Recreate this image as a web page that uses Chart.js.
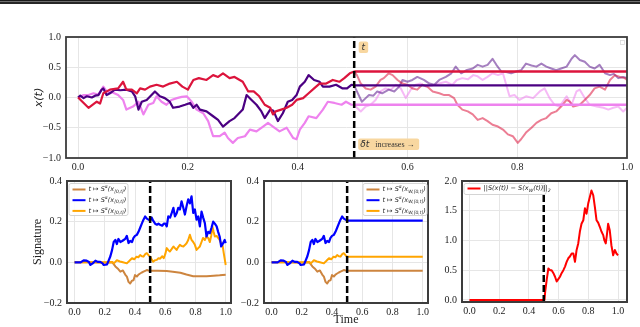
<!DOCTYPE html>
<html><head><meta charset="utf-8">
<script src="https://cdn.jsdelivr.net/npm/chart.js@4/dist/chart.umd.min.js"></script>
<style>
html,body{margin:0;padding:0;background:#fff;}
#wrap{position:relative;width:640px;height:327px;overflow:hidden;background:#fff;}
#wrap canvas{position:absolute;left:0;top:0;}
.bar{position:absolute;left:0;width:640px;height:1px;}
</style></head><body>
<div id="wrap">
<div class="bar" style="top:0;background:#1a1a1a;"></div>
<div class="bar" style="top:1px;background:#6e6e6e;"></div>
<div class="bar" style="top:2px;height:2px;background:#262626;"></div>
<canvas id="c1" width="640" height="327"></canvas>
<canvas id="c2" width="640" height="327"></canvas>
<canvas id="c3" width="640" height="327"></canvas>
<canvas id="c4" width="640" height="327"></canvas>
</div>
<script>
// ---------------- DATA ----------------
const tStarTop = 0.503;
const tStar = 0.5;
const xTicks = [0, 0.2, 0.4, 0.6, 0.8, 1.0];
const yTicksTop = [-1, -0.5, 0, 0.5, 1];
const yTicksSig = [-0.2, 0, 0.2, 0.4];
const yTicksNorm = [0, 0.5, 1.0, 1.5, 2.0];

// top panel: observed paths up to t
const redT = [0,0.019,0.034,0.04,0.046,0.058,0.073,0.082,0.088,0.098,0.107,0.113,0.122,0.131,0.143,0.155,0.167,0.18,0.19,0.2,0.21,0.22,0.234,0.246,0.255,0.264,0.276,0.285,0.3,0.31,0.32,0.33,0.34,0.35,0.355,0.36,0.37,0.38,0.39,0.398,0.41,0.42,0.43,0.44,0.452,0.464,0.476,0.485,0.495,0.503];
const redX = [0,-0.17,-0.07,-0.1,0.07,0.13,0.15,0.26,0.13,0.13,0.07,0.15,0.13,0.18,0.21,0.18,0.23,0.26,0.18,0.13,0.29,0.32,0.29,0.37,0.34,0.4,0.32,0.34,0.26,0.1,0.1,0.02,-0.12,-0.17,-0.28,-0.23,-0.2,-0.17,-0.12,-0.04,-0.01,0.07,0.15,0.23,0.23,0.29,0.26,0.32,0.4,0.43];
const purT = [0,0.004,0.01,0.016,0.025,0.031,0.037,0.043,0.046,0.052,0.058,0.067,0.077,0.088,0.098,0.104,0.11,0.116,0.125,0.14,0.149,0.158,0.167,0.173,0.185,0.195,0.204,0.21,0.216,0.222,0.234,0.246,0.255,0.264,0.276,0.285,0.3,0.307,0.316,0.325,0.334,0.34,0.35,0.356,0.364,0.373,0.382,0.39,0.398,0.404,0.413,0.42,0.43,0.44,0.446,0.458,0.47,0.482,0.49,0.498,0.503];
const purX = [0,0.03,-0.01,0.02,0,0.03,0.04,0.13,0.15,0.04,0.07,0.13,0.12,0.13,0.1,0.02,-0.2,-0.07,-0.04,0.1,0.02,-0.01,-0.07,-0.17,-0.15,-0.12,-0.09,-0.17,-0.12,-0.2,-0.23,-0.31,-0.37,-0.48,-0.39,-0.34,-0.2,0.04,-0.04,-0.12,-0.23,-0.34,-0.2,-0.22,-0.39,-0.26,-0.07,-0.04,0.04,0.18,0.26,0.37,0.29,0.26,0.18,0.18,0.21,0.15,0.15,0.21,0.2];
const pinkT = [0,0.01,0.019,0.028,0.037,0.046,0.052,0.064,0.073,0.082,0.088,0.1,0.11,0.119,0.128,0.137,0.143,0.152,0.161,0.17,0.18,0.189,0.198,0.207,0.216,0.228,0.237,0.246,0.258,0.267,0.273,0.282,0.291,0.304,0.313,0.325,0.337,0.346,0.355,0.367,0.38,0.392,0.398,0.404,0.413,0.42,0.434,0.446,0.455,0.467,0.48,0.488,0.498,0.503];
const pinkX = [0,0.04,0.04,0.07,0.05,0.18,0.1,0.08,0.04,-0.04,-0.2,-0.15,-0.07,-0.28,-0.12,-0.09,0.02,-0.07,-0.12,-0.04,-0.01,0.01,0.02,-0.07,-0.2,-0.26,-0.39,-0.64,-0.64,-0.58,-0.67,-0.75,-0.67,-0.64,-0.53,-0.56,-0.48,-0.42,-0.48,-0.56,-0.5,-0.67,-0.69,-0.53,-0.42,-0.31,-0.34,-0.2,-0.07,-0.09,-0.12,-0.07,-0.12,-0.12];

// top panel: continuations after t (faded)
const redCT = [0.503,0.508,0.515,0.524,0.533,0.542,0.551,0.557,0.566,0.573,0.582,0.591,0.6,0.609,0.618,0.627,0.636,0.646,0.658,0.667,0.676,0.685,0.691,0.7,0.71,0.719,0.728,0.737,0.746,0.755,0.765,0.774,0.783,0.792,0.801,0.807,0.816,0.826,0.835,0.844,0.853,0.862,0.871,0.88,0.89,0.896,0.902,0.914,0.923,0.932,0.941,0.95,0.96,0.969,0.978,0.987,0.996,1.0];
const redCX = [0.43,0.37,0.23,0.15,0.13,0.18,0.29,0.32,0.4,0.37,0.29,0.23,0.21,0.15,0.13,0.21,0.18,0.1,0.07,0.04,0.04,-0.01,-0.12,-0.2,-0.23,-0.28,-0.37,-0.34,-0.39,-0.45,-0.48,-0.53,-0.61,-0.64,-0.75,-0.69,-0.58,-0.5,-0.42,-0.37,-0.34,-0.26,-0.23,-0.15,-0.04,-0.07,-0.15,-0.12,-0.04,0.04,0.15,0.18,0.13,0.29,0.37,0.34,0.32,0.29];
const purCT = [0.503,0.508,0.517,0.524,0.53,0.538,0.545,0.554,0.566,0.576,0.585,0.591,0.6,0.609,0.618,0.63,0.64,0.649,0.658,0.67,0.68,0.688,0.698,0.707,0.719,0.728,0.737,0.746,0.755,0.762,0.771,0.78,0.789,0.798,0.807,0.816,0.826,0.835,0.844,0.853,0.862,0.871,0.88,0.89,0.899,0.905,0.914,0.923,0.932,0.941,0.95,0.96,0.969,0.976,0.984,0.993,1.0];
const purCX = [0.2,0.1,-0.07,-0.01,0.04,0.03,0.1,0.07,0.13,0.1,0.18,0.29,0.26,0.29,0.34,0.29,0.23,0.21,0.29,0.34,0.4,0.51,0.4,0.45,0.48,0.54,0.51,0.54,0.64,0.54,0.43,0.42,0.4,0.43,0.45,0.56,0.53,0.51,0.56,0.51,0.48,0.45,0.48,0.51,0.64,0.7,0.62,0.59,0.51,0.48,0.54,0.4,0.37,0.39,0.32,0.34,0.32];
const pinkCT = [0.503,0.508,0.515,0.524,0.533,0.542,0.551,0.56,0.57,0.579,0.588,0.597,0.606,0.615,0.624,0.634,0.646,0.658,0.67,0.682,0.69,0.7,0.71,0.72,0.728,0.737,0.746,0.755,0.765,0.774,0.78,0.786,0.795,0.804,0.816,0.829,0.841,0.85,0.859,0.868,0.877,0.89,0.899,0.908,0.914,0.923,0.932,0.945,0.957,0.966,0.975,0.984,0.993,1.0];
const pinkCX = [-0.12,-0.17,-0.23,-0.15,-0.12,-0.04,0.1,0.15,0.13,0.21,0.15,-0.01,0.13,0.21,0.23,0.18,0.2,0.23,0.26,0.21,0.29,0.32,0.3,0.37,0.35,0.29,0.34,0.4,0.37,0.4,0.21,0.02,0.04,-0.04,0.02,-0.01,0.1,0.15,-0.01,-0.12,-0.15,0.02,-0.12,0.1,0.13,-0.01,-0.12,-0.15,-0.17,-0.2,-0.17,-0.15,-0.23,-0.17];

// top panel: frozen values after t
const redFlat = 0.43;
const purFlat = 0.2;
const pinkFlat = -0.12;

// bottom: signature terms
const blueT = [0,0.04,0.06,0.08,0.095,0.105,0.12,0.138,0.155,0.17,0.185,0.193,0.205,0.215,0.226,0.237,0.248,0.259,0.27,0.28,0.29,0.303,0.315,0.325,0.335,0.346,0.357,0.368,0.38,0.39,0.4,0.412,0.423,0.434,0.445,0.456,0.467,0.478,0.489,0.5,0.51,0.52,0.533,0.545,0.555,0.566,0.58,0.59,0.6,0.61,0.62,0.632,0.643,0.654,0.664,0.675,0.686,0.697,0.708,0.719,0.73,0.741,0.752,0.763,0.774,0.785,0.796,0.807,0.818,0.829,0.84,0.851,0.862,0.873,0.884,0.895,0.906,0.917,0.928,0.94,0.95,0.96,0.97,0.98,0.993,1.0];
const blueV = [0,0,0.01,0.008,0.002,-0.013,-0.005,0.008,0.002,0.002,-0.005,-0.013,-0.012,-0.01,0.01,0.03,0.06,0.1,0.11,0.09,0.115,0.1,0.105,0.11,0.115,0.13,0.095,0.105,0.1,0.12,0.13,0.135,0.15,0.17,0.19,0.21,0.226,0.215,0.21,0.205,0.22,0.205,0.19,0.185,0.19,0.185,0.18,0.19,0.19,0.177,0.226,0.22,0.243,0.268,0.226,0.24,0.268,0.26,0.3,0.27,0.235,0.276,0.31,0.29,0.325,0.243,0.26,0.21,0.226,0.177,0.25,0.22,0.193,0.127,0.15,0.144,0.17,0.2,0.19,0.177,0.15,0.127,0.078,0.09,0.11,0.095];
const orT = [0,0.1,0.2,0.25,0.26,0.28,0.3,0.32,0.346,0.36,0.38,0.395,0.41,0.422,0.434,0.445,0.456,0.467,0.478,0.489,0.5,0.51,0.52,0.532,0.544,0.555,0.566,0.58,0.59,0.6,0.61,0.62,0.63,0.642,0.654,0.664,0.675,0.686,0.697,0.708,0.72,0.73,0.741,0.752,0.763,0.774,0.785,0.796,0.807,0.818,0.829,0.84,0.85,0.862,0.873,0.884,0.895,0.904,0.912,0.92,0.928,0.94,0.95,0.96,0.97,0.98,0.987,1.0];
const orV = [0,0,0,0.002,-0.005,0.01,0.004,0,-0.005,0.005,0.02,0.015,0.028,0.025,0.036,0.03,0.028,0.04,0.045,0.035,0.028,0.015,0.003,0.01,0.012,0.02,0.018,0.03,0.02,0.04,0.07,0.06,0.053,0.065,0.078,0.07,0.061,0.075,0.086,0.08,0.078,0.085,0.094,0.11,0.136,0.11,0.1,0.086,0.061,0.07,0.078,0.1,0.12,0.11,0.127,0.12,0.1,0.13,0.177,0.15,0.127,0.13,0.12,0.11,0.094,0.08,0.045,-0.013];
const brT = [0,0.1,0.2,0.25,0.27,0.285,0.303,0.32,0.335,0.346,0.357,0.368,0.38,0.39,0.4,0.412,0.423,0.434,0.445,0.456,0.467,0.478,0.489,0.5,0.55,0.61,0.65,0.7,0.74,0.785,0.83,0.873,0.92,0.96,1.0];
const brV = [0,0,-0.002,0,-0.02,-0.03,-0.046,-0.04,-0.06,-0.07,-0.096,-0.104,-0.09,-0.088,-0.063,-0.07,-0.06,-0.055,-0.05,-0.046,-0.042,-0.038,-0.04,-0.041,-0.042,-0.043,-0.046,-0.051,-0.06,-0.068,-0.068,-0.068,-0.066,-0.064,-0.061];
const blueFlatW = 0.205;
const orFlatW = 0.028;
const brFlatW = -0.041;

// bottom right: signature distance
const normT = [0,0.5,0.505,0.51,0.52,0.531,0.542,0.553,0.565,0.576,0.587,0.598,0.609,0.62,0.632,0.643,0.654,0.665,0.676,0.688,0.699,0.71,0.721,0.732,0.743,0.754,0.766,0.777,0.788,0.799,0.81,0.821,0.833,0.844,0.855,0.866,0.877,0.888,0.9,0.908,0.917,0.925,0.933,0.944,0.955,0.967,0.978,0.989,1.0];
const normV = [0,0,0,0.15,0.34,0.53,0.5,0.5,0.45,0.39,0.31,0.35,0.39,0.45,0.5,0.56,0.64,0.7,0.73,0.78,0.78,0.64,0.84,0.95,1.15,1.28,1.34,1.54,1.45,1.62,1.73,1.84,1.76,1.56,1.34,1.3,1.23,1.15,1.09,1.0,0.95,1.1,1.28,1.17,0.92,0.75,0.84,0.78,0.75];

// ---------------- HELPERS ----------------
Chart.defaults.font.family = "'Liberation Serif', 'Times New Roman', serif";
Chart.defaults.font.size = 10;
Chart.defaults.color = '#222';
const pts = (ts, vs) => ts.map((t, i) => ({x: t, y: vs[i]}));
const upTo = (ts, vs, lim) => pts(ts, vs).filter(p => p.x <= lim + 1e-9);
const fmt = v => (v < 0 ? '\u2212' : '') + Math.abs(v).toFixed(1);

function line(data, color, w, extra) {
  return Object.assign({data, borderColor: color, borderWidth: w, pointRadius: 0, tension: 0,
    fill: false, borderJoinStyle: 'round', borderCapStyle: 'butt'}, extra || {});
}
function xScale(min, max, H, title) {
  return {type: 'linear', position: 'bottom', min, max,
    afterBuildTicks: s => { s.ticks = xTicks.map(v => ({value: v})); },
    afterFit: s => { s.height = H; },
    grid: {color: '#e6e6e6', lineWidth: 1, drawTicks: false},
    border: {display: false},
    ticks: {padding: 3, color: '#222', font: {size: 10}, callback: fmt, maxRotation: 0, autoSkip: false},
    title: title || {display: false}};
}
function yScale(min, max, ticks, W, title) {
  return {type: 'linear', position: 'left', min, max,
    afterBuildTicks: s => { s.ticks = ticks.map(v => ({value: v})); },
    afterFit: s => { s.width = W; },
    grid: {color: '#e6e6e6', lineWidth: 1, drawTicks: false},
    border: {display: false},
    ticks: {padding: 5, color: '#222', font: {size: 10}, callback: fmt, autoSkip: false},
    title: title || {display: false}};
}
function frame(color, width) {
  return {id: 'frame', afterDraw(chart) {
    const {ctx, chartArea: a} = chart;
    ctx.save(); ctx.strokeStyle = color; ctx.lineWidth = width;
    ctx.strokeRect(a.left, a.top, a.right - a.left, a.bottom - a.top); ctx.restore();
  }};
}
function drawPieces(ctx, x, y, pieces, size) {
  ctx.textBaseline = 'middle'; ctx.textAlign = 'left';
  for (const [txt, kind] of pieces) {
    const small = kind === 'sup' || kind === 'sub';
    const fs = small ? size * 0.7 : size;
    ctx.font = 'italic ' + fs + 'px "DejaVu Sans"';
    const dy = kind === 'sup' ? -size * 0.35 : kind === 'sub' ? size * 0.3 : 0;
    ctx.fillText(txt, x, y + dy);
    x += ctx.measureText(txt).width;
  }
}
function legend(box, items) {
  return {id: 'lg', afterDraw(chart) {
    const a = chart.chartArea, ctx = chart.ctx;
    const bx = box.fromRight ? a.right - box.dx - box.w : a.left + box.dx;
    const by = a.top + box.dy;
    ctx.save();
    ctx.fillStyle = 'rgba(255,255,255,0.85)'; ctx.strokeStyle = '#d4d4d4'; ctx.lineWidth = 1;
    ctx.beginPath(); ctx.roundRect(bx + 0.5, by + 0.5, box.w, box.h, 2); ctx.fill(); ctx.stroke();
    items.forEach((it, i) => {
      const y = by + box.row0 + i * box.rowH;
      ctx.strokeStyle = it.color; ctx.lineWidth = 2;
      ctx.beginPath(); ctx.moveTo(bx + 4, y); ctx.lineTo(bx + 17, y); ctx.stroke();
      ctx.fillStyle = '#222';
      drawPieces(ctx, bx + 20, y, it.text, box.fs);
    });
    ctx.restore();
  }};
}
const baseOpts = (padding, scales, extra) => Object.assign({
  responsive: false, animation: false, devicePixelRatio: 1,
  layout: {padding, autoPadding: false},
  plugins: {legend: {display: false}, tooltip: {enabled: false}},
  scales, events: []}, extra || {});

// ---------------- TOP CHART ----------------
const annot = {id: 'annot', afterDraw(chart) {
  const ctx = chart.ctx, xd = chart.scales.x.getPixelForValue(tStarTop);
  ctx.save();
  ctx.fillStyle = '#f8d7a0';
  ctx.beginPath(); ctx.roundRect(xd + 4.5, 41.5, 9.5, 11.5, 2); ctx.fill();
  ctx.beginPath(); ctx.roundRect(xd + 4, 138.5, 61, 11.5, 2); ctx.fill();
  ctx.fillStyle = '#333'; ctx.textBaseline = 'middle';
  ctx.font = 'italic 9px "DejaVu Sans"'; ctx.textAlign = 'center';
  ctx.fillText('t', xd + 9.2, 47.5);
  ctx.textAlign = 'left';
  ctx.fillText('\u03b4t', xd + 6, 144.5);
  ctx.font = '8px "Liberation Serif"';
  ctx.fillText('increases \u2192', xd + 21, 144.5);
  ctx.strokeStyle = '#d8d8d8'; ctx.lineWidth = 0.8;
  ctx.strokeRect(620.5, 40.5, 4, 4);
  ctx.restore();
}};
new Chart(document.getElementById('c1'), {
  type: 'line',
  data: {datasets: [
    line([{x: tStarTop, y: -1}, {x: tStarTop, y: 1}], '#000', 2.5, {borderDash: [7, 3]}),
    line([{x: tStarTop, y: redFlat}, {x: 1, y: redFlat}], '#dc143c', 2.3),
    line([{x: tStarTop, y: purFlat}, {x: 1, y: purFlat}], '#4b0082', 2.3),
    line([{x: tStarTop, y: pinkFlat}, {x: 1, y: pinkFlat}], '#ee82ee', 2.3),
    line(pts(redT, redX), '#dc143c', 2.2),
    line(pts(purT, purX), '#4b0082', 2.2),
    line(pts(pinkT, pinkX), '#ee82ee', 2.2),
    line(pts(redCT, redCX), 'rgba(220,20,60,0.55)', 2),
    line(pts(purCT, purCX), 'rgba(75,0,130,0.5)', 2),
    line(pts(pinkCT, pinkCX), 'rgba(238,130,238,0.55)', 2)
  ]},
  options: baseOpts({left: 26, top: 37, right: 13, bottom: 151}, {
    x: xScale(-0.022, 1.0, 18),
    y: yScale(-1, 1, yTicksTop, 40, {display: true, text: 'x(t)', color: '#222',
      font: {family: 'DejaVu Sans', style: 'italic', size: 11}, padding: {top: 7, bottom: 0}})
  }),
  plugins: [frame('#3c3c3c', 1.8), annot]
});

// ---------------- BOTTOM LEFT ----------------
const sigItems = [
  {color: '#cd853f', text: [['t \u21a6 S', 'n'], ['\u03b1', 'sup'], ['(x', 'n'], ['[0,t]', 'sub'], [')', 'n']]},
  {color: '#0000ff', text: [['t \u21a6 S', 'n'], ['\u03b1', 'sup'], ['(x', 'n'], ['[0,t]', 'sub'], [')', 'n']]},
  {color: '#ffa500', text: [['t \u21a6 S', 'n'], ['\u03b1', 'sup'], ['(x', 'n'], ['[0,t]', 'sub'], [')', 'n']]}
];
new Chart(document.getElementById('c2'), {
  type: 'line',
  data: {datasets: [
    line([{x: tStar, y: -0.2}, {x: tStar, y: 0.4}], '#000', 2.5, {borderDash: [7, 3]}),
    line(pts(blueT, blueV), '#0000ff', 2.2),
    line(pts(orT, orV), '#ffa500', 2),
    line(pts(brT, brV), '#cd853f', 2)
  ]},
  options: baseOpts({left: 17, top: 181, right: 409, bottom: 6}, {
    x: xScale(-0.05, 1.035, 18),
    y: yScale(-0.2, 0.4, yTicksSig, 50, {display: true, text: 'Signature', color: '#222',
      font: {size: 12}, padding: {top: 14, bottom: 0}})
  }),
  plugins: [frame('#3c3c3c', 2), legend({dx: 1.5, dy: 2, w: 59, h: 32, row0: 6.5, rowH: 10.7, fs: 6.5}, sigItems)]
});

// ---------------- BOTTOM MIDDLE ----------------
const wItems = [
  {color: '#cd853f', text: [['t \u21a6 S', 'n'], ['\u03b1', 'sup'], ['(x', 'n'], ['W,[0,t]', 'sub'], [')', 'n']]},
  {color: '#0000ff', text: [['t \u21a6 S', 'n'], ['\u03b1', 'sup'], ['(x', 'n'], ['W,[0,t]', 'sub'], [')', 'n']]},
  {color: '#ffa500', text: [['t \u21a6 S', 'n'], ['\u03b1', 'sup'], ['(x', 'n'], ['W,[0,t]', 'sub'], [')', 'n']]}
];
new Chart(document.getElementById('c3'), {
  type: 'line',
  data: {datasets: [
    line([{x: tStar, y: -0.2}, {x: tStar, y: 0.4}], '#000', 2.5, {borderDash: [7, 3]}),
    line(upTo(blueT, blueV, tStar), '#0000ff', 2.2),
    line([{x: tStar, y: blueFlatW}, {x: 1, y: blueFlatW}], '#0000ff', 2.2),
    line(upTo(orT, orV, tStar), '#ffa500', 2),
    line([{x: tStar, y: orFlatW}, {x: 1, y: orFlatW}], '#ffa500', 2),
    line(upTo(brT, brV, tStar), '#cd853f', 2),
    line([{x: tStar, y: brFlatW}, {x: 1, y: brFlatW}], '#cd853f', 2)
  ]},
  options: baseOpts({left: 224, top: 181, right: 212, bottom: 0}, {
    x: xScale(-0.05, 1.035, 24, {display: true, text: 'Time', color: '#222', font: {size: 12}, padding: {top: 0, bottom: 0}}),
    y: yScale(-0.2, 0.4, yTicksSig, 40)
  }),
  plugins: [frame('#3c3c3c', 2), legend({fromRight: true, dx: 1.5, dy: 2, w: 64, h: 32, row0: 6.5, rowH: 10.7, fs: 6.5}, wItems)]
});

// ---------------- BOTTOM RIGHT ----------------
const normItems = [
  {color: '#ff0000', text: [['||S(x(t)) \u2212 S(x', 'n'], ['W', 'sub'], ['(t))||', 'n'], ['2', 'sub']]}
];
new Chart(document.getElementById('c4'), {
  type: 'line',
  data: {datasets: [
    line([{x: tStar, y: -0.035}, {x: tStar, y: 2.0}], '#000', 2.5, {borderDash: [7, 3]}),
    line(pts(normT, normV), '#ff0000', 2)
  ]},
  options: baseOpts({left: 422, top: 181, right: 13, bottom: 7}, {
    x: xScale(-0.05, 1.06, 18),
    y: yScale(-0.035, 2.0, yTicksNorm, 40)
  }),
  plugins: [frame('#3c3c3c', 2), legend({dx: 1.5, dy: 2, w: 82, h: 11, row0: 5.5, rowH: 10, fs: 6.5}, normItems)]
});
</script>
</body></html>
